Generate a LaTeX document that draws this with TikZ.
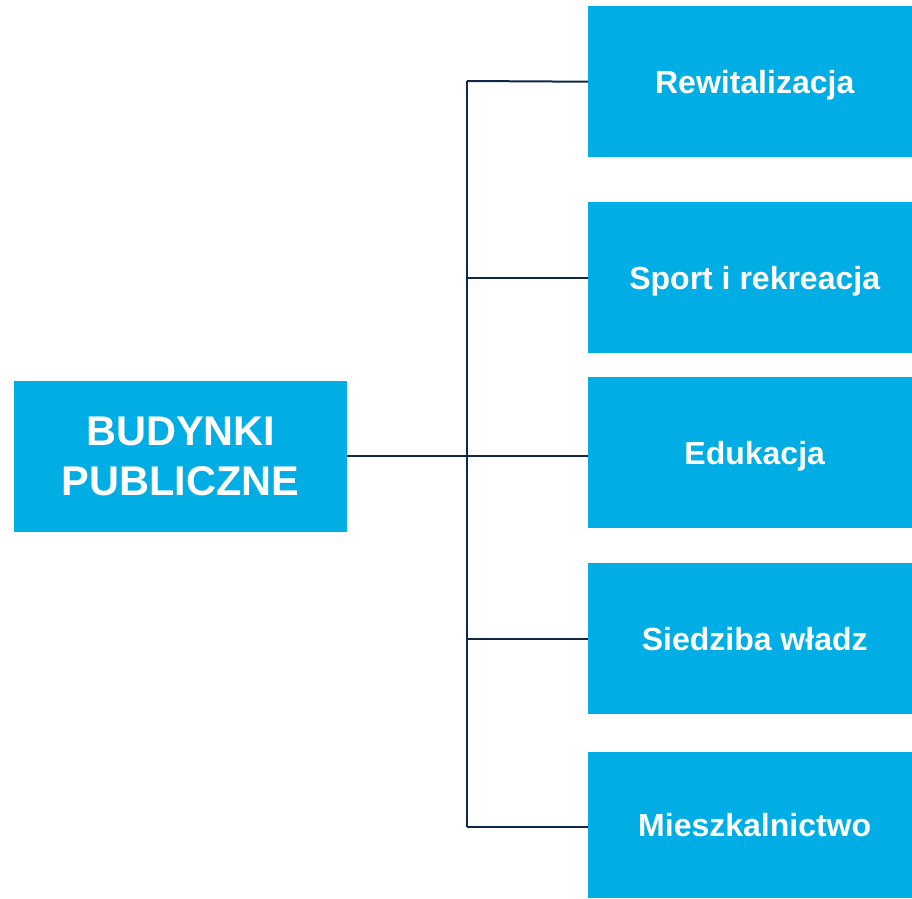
\documentclass[tikz,border=0pt]{standalone}
\usepackage{fontspec}
\setmainfont{Liberation Sans}
\definecolor{boxblue}{RGB}{0,173,228}
\definecolor{linenavy}{RGB}{16,40,72}
\begin{document}
\begin{tikzpicture}[x=1pt,y=-1pt,
  catbox/.style={fill=boxblue,draw=none,minimum width=324pt,minimum height=151pt,inner sep=0pt,text height=23pt,text depth=0pt,anchor=north west,text=white,font=\fontsize{32}{38}\selectfont\bfseries,execute at begin node=\hspace*{9pt}},
  mainbox/.style={fill=boxblue,draw=none,minimum width=333pt,minimum height=151pt,inner sep=0pt,anchor=north west,text=white,align=center,font=\fontsize{41.5}{50}\selectfont\bfseries},
  link/.style={draw=linenavy,line width=2pt}]
\useasboundingbox (0,0) rectangle (912,898);
\node[mainbox] (main) at (14,381) {BUDYNKI\\PUBLICZNE};
\node[catbox] (c1) at (588,6) {Rewitalizacja};
\node[catbox] (c2) at (588,202) {Sport i rekreacja};
\node[catbox] (c3) at (588,377) {Edukacja};
\node[catbox] (c4) at (588,563) {Siedziba władz};
\node[catbox,minimum height=146pt] (c5) at (588,752) {Mieszkalnictwo};
\coordinate (top) at (467,81);
\coordinate (bot) at (467,827);
\coordinate (mid) at (467,456);
\draw[link] (top) -- (bot);
\draw[link,line width=2.5pt] (main.east |- mid) -- (mid);
\draw[link] (top) -- (c1.west);
\draw[link] (467,0 |- c2.west) -- (c2.west);
\draw[link] (mid) -- (c3.west |- mid);
\draw[link] (467,0 |- c4.west) -- (c4.west);
\draw[link] (bot) -- (c5.west |- bot);
\end{tikzpicture}
\end{document}
